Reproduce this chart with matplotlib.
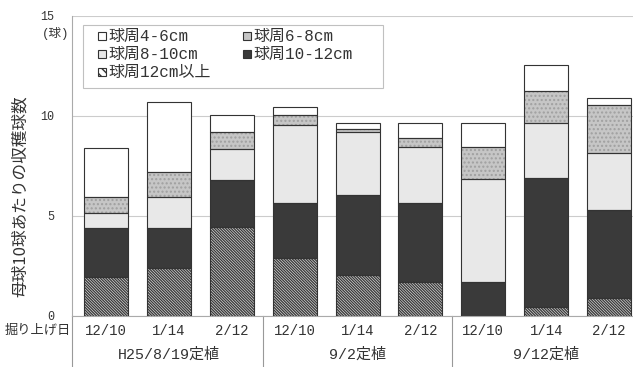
import matplotlib
matplotlib.use('Agg')
import matplotlib.pyplot as plt
from matplotlib.patches import Rectangle
import numpy as np

plt.rcParams['font.family'] = ['Liberation Mono', 'Noto Sans CJK JP']
plt.rcParams['hatch.linewidth'] = 1.0

dates = ['12/10', '1/14', '2/12'] * 3
groups = ['H25/8/19定植', '9/2定植', '9/12定植']
sizes = ['球周4-6cm', '球周6-8cm', '球周8-10cm', '球周10-12cm', '球周12cm以上']

# 下から 12cm以上, 10-12, 8-10, 6-8, 4-6
s12up = [1.95, 2.40, 4.47, 2.88, 2.05, 1.72, 0.00, 0.47, 0.88]
s10_12 = [2.45, 2.00, 2.33, 2.75, 4.00, 3.95, 1.68, 6.41, 4.42]
s8_10 = [0.77, 1.57, 1.53, 3.92, 3.15, 2.76, 5.17, 2.79, 2.83]
s6_8 = [0.80, 1.23, 0.87, 0.50, 0.15, 0.45, 1.62, 1.60, 2.42]
s4_6 = [2.43, 3.50, 0.85, 0.42, 0.30, 0.79, 1.20, 1.28, 0.37]

fig = plt.figure(figsize=(6.33, 3.67), dpi=100)
ax = fig.add_axes([72/633, 51/367, 561/633, 300/367])

x = np.arange(len(dates))
w = 0.70
hatch12 = '\\' * 12
# 各段: 値, 塗り, ハッチ, ハッチ色  (4-6cm は一番上)
layers = [
    (s12up, '#f4f4f4', hatch12, '#3c3c3c'),
    (s10_12, '#3a3a3a', None, '#3a3a3a'),
    (s8_10, '#e8e8e8', None, '#e8e8e8'),
    (s6_8, '#c6c6c6', '....', '#a0a0a0'),
    (s4_6, 'white', None, 'white'),
]
bottom = np.zeros(len(x))
for vals, fc, hatch, hc in layers:
    vals = np.array(vals)
    ax.bar(x, vals, w, bottom=bottom, color=fc, hatch=hatch, edgecolor=hc,
           linewidth=0, zorder=2)
    ax.bar(x, vals, w, bottom=bottom, fill=False, edgecolor='#333333',
           linewidth=0.8, zorder=3)
    bottom += vals

ax.set_xlim(-0.54, 8.38)
ax.set_ylim(0, 15)
ax.set_yticks([0, 5, 10, 15])
ax.tick_params(axis='y', length=0, labelsize=8.5, colors='#333333', pad=13)
ax.set_xticks([])
ax.grid(axis='y', color='#cccccc', linewidth=0.8, zorder=0)
for s in ['top', 'right']:
    ax.spines[s].set_visible(False)
ax.spines['left'].set_color('#aaaaaa')
ax.spines['bottom'].set_color('#aaaaaa')

ax.text(-0.03, 14.15, '(球)', transform=ax.get_yaxis_transform(), ha='center',
        va='center', fontsize=9, color='#333333')
fig.text(0.032, 0.466, '母球10球あたりの収穫球数', rotation=90, ha='center',
         va='center', fontsize=12, color='#333333',
         family=['Noto Sans CJK JP'])

# 下の項目表
tr = ax.get_xaxis_transform()
for xi, d in zip(x, dates):
    ax.text(xi, -0.05, d, transform=tr, ha='center', va='center',
            fontsize=10, color='#333333')
for i, g in enumerate(groups):
    ax.text(3 * i + 1, -0.13, g, transform=tr, ha='center', va='center',
            fontsize=10.8, color='#333333')
for xs in [-0.54, 2.5, 5.5]:
    ax.plot([xs, xs], [0, -0.18], transform=tr, color='#999999',
            linewidth=0.8, clip_on=False)
ax.text(-0.56, -0.05, '掘り上げ日', transform=tr, ha='right', va='center',
        fontsize=9.5, color='#333333')

# 凡例 (手で配置)
ax.add_patch(Rectangle((0.0196, 0.76), 0.535, 0.21, transform=ax.transAxes,
                       facecolor='white', edgecolor='#c0c0c0', linewidth=0.8,
                       zorder=5))
leg_style = [
    ('white', None),
    ('#c6c6c6', None),
    ('#e8e8e8', None),
    ('#3a3a3a', None),
    ('white', '\\\\\\\\'),
]
leg_pos = [(0, 0), (1, 0), (0, 1), (1, 1), (0, 2)]
col_x = [0.0535, 0.312]
row_y = [0.933, 0.873, 0.813]
mw, mh = 0.0143, 0.0267
for (c, r), name, (fc, hatch) in zip(leg_pos, sizes, leg_style):
    mx, my = col_x[c], row_y[r]
    ax.add_patch(Rectangle((mx - mw / 2, my - mh / 2), mw, mh,
                           transform=ax.transAxes, facecolor=fc, hatch=hatch,
                           edgecolor='#333333', linewidth=0.8, zorder=6))
    ax.text(mx + 0.012, my, name, transform=ax.transAxes, ha='left',
            va='center', fontsize=11.5, color='#333333', zorder=6)

fig.savefig('out.png', dpi=100)
